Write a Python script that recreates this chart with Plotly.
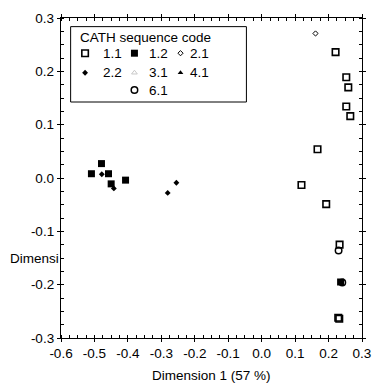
import plotly.graph_objects as go

# ---- data ----
codes = ["1.1", "1.2", "2.1", "2.2", "3.1", "4.1", "6.1"]

x_11 = [0.221, 0.253, 0.259, 0.253, 0.265, 0.167, 0.119, 0.193, 0.233, 0.229, 0.232]
y_11 = [0.236, 0.189, 0.170, 0.134, 0.116, 0.054, -0.013, -0.049, -0.125, -0.262, -0.264]

x_12 = [-0.479, -0.509, -0.458, -0.450, -0.407, 0.236]
y_12 = [0.027, 0.008, 0.008, -0.011, -0.004, -0.195]

x_21 = [0.161]
y_21 = [0.271]

x_22 = [-0.478, -0.442, -0.281, -0.255]
y_22 = [0.007, -0.0195, -0.028, -0.009]

x_31 = []
y_31 = []

x_41 = []
y_41 = []

x_61 = [0.230, 0.241]
y_61 = [-0.136, -0.196]

x_ticks = [-0.6, -0.5, -0.4, -0.3, -0.2, -0.1, 0.0, 0.1, 0.2, 0.3]
y_ticks = [-0.3, -0.2, -0.1, 0.0, 0.1, 0.2, 0.3]

# ---- styles ----
FONT = "Liberation Sans, Arial, sans-serif"
styles = {
    "1.1": dict(symbol="square-open", size=6.5, color="black", line=dict(width=1.6, color="black")),
    "1.2": dict(symbol="square", size=7, color="black", line=dict(width=0)),
    "2.1": dict(symbol="diamond-open", size=4, color="black", line=dict(width=1, color="black")),
    "2.2": dict(symbol="diamond", size=4.5, color="black", line=dict(width=0)),
    "3.1": dict(symbol="triangle-up-open", size=5, color="#c8c8c8", line=dict(width=1, color="#c8c8c8")),
    "4.1": dict(symbol="triangle-up", size=5, color="black", line=dict(width=0)),
    "6.1": dict(symbol="circle-open", size=6.5, color="black", line=dict(width=1.5, color="black")),
}
series = {
    "1.1": (x_11, y_11), "1.2": (x_12, y_12), "2.1": (x_21, y_21), "2.2": (x_22, y_22),
    "3.1": (x_31, y_31), "4.1": (x_41, y_41), "6.1": (x_61, y_61),
}

fig = go.Figure()
for c in codes:
    xs, ys = series[c]
    fig.add_trace(go.Scatter(x=xs, y=ys, mode="markers", name=c,
                             marker=styles[c], showlegend=False, hoverinfo="skip"))

# ---- manual legend (helper axes spanning plot area 0..1) ----
leg_col_sym = [0.080, 0.244, 0.397]
leg_col_txt = [0.132, 0.287, 0.422]
leg_row_y = [0.890, 0.829, 0.775]
leg_cells = {"1.1": (0, 0), "1.2": (0, 1), "2.1": (0, 2),
             "2.2": (1, 0), "3.1": (1, 1), "4.1": (1, 2), "6.1": (2, 1)}
for c in codes:
    r, k = leg_cells[c]
    fig.add_trace(go.Scatter(x=[leg_col_sym[k]], y=[leg_row_y[r]], mode="markers",
                             marker=styles[c], xaxis="x2", yaxis="y2",
                             showlegend=False, hoverinfo="skip"))
    fig.add_annotation(x=leg_col_txt[k], y=leg_row_y[r], xref="x2", yref="y2",
                       text=c, showarrow=False, xanchor="left", yanchor="middle",
                       font=dict(family=FONT, size=13.5, color="black"))
fig.add_annotation(x=0.055, y=0.938, xref="x2", yref="y2", text="CATH sequence code",
                   showarrow=False, xanchor="left", yanchor="middle",
                   font=dict(family=FONT, size=13.5, color="black"))
fig.add_shape(type="rect", xref="x2", yref="y2", x0=0.032, x1=0.616, y0=0.7375, y1=0.973,
              line=dict(color="black", width=1), fillcolor="rgba(0,0,0,0)")

# axis titles
fig.add_annotation(x=0.5, y=-0.117, xref="paper", yref="paper", yanchor="middle",
                   text="Dimension 1 (57 %)", showarrow=False,
                   font=dict(family=FONT, size=13.5, color="black"))
fig.add_annotation(x=0, y=-0.15, xref="paper", yref="y", xanchor="right", yanchor="middle",
                   text="Dimensi", showarrow=False,
                   font=dict(family=FONT, size=13.5, color="black"))

axis_common = dict(showgrid=False, zeroline=False, showline=True, linecolor="black",
                   linewidth=1.3, mirror="allticks", ticks="outside", ticklen=3,
                   tickwidth=1, tickcolor="black",
                   tickfont=dict(family=FONT, size=13.5, color="black"))
fig.update_layout(
    width=381, height=387,
    margin=dict(l=61, r=10, t=18, b=49),
    paper_bgcolor="white", plot_bgcolor="white",
    showlegend=False,
    xaxis=dict(range=[-0.6, 0.3], tickvals=x_ticks, ticktext=[f"{v:.1f}" for v in x_ticks],
               minor=dict(ticks="inside", dtick=0.025, tick0=-0.6, ticklen=3, tickcolor="black"),
               **axis_common),
    yaxis=dict(range=[-0.3, 0.3], tickvals=y_ticks, ticktext=[f"{v:.1f}" for v in y_ticks],
               minor=dict(ticks="inside", dtick=0.025, tick0=-0.3, ticklen=3, tickcolor="black"),
               **axis_common),
    xaxis2=dict(range=[0, 1], overlaying="x", visible=False, fixedrange=True),
    yaxis2=dict(range=[0, 1], overlaying="y", visible=False, fixedrange=True),
)

fig.write_html("out.html")
